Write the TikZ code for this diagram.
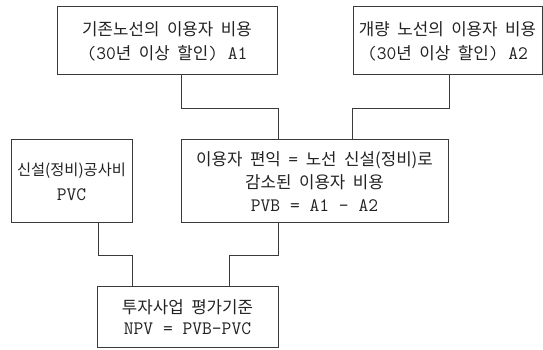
\documentclass[tikz,border=0pt]{standalone}
\usepackage{fontspec}
\newfontfamily\kr[WordSpace=2.0]{Noto Sans CJK KR}
\newcommand\E[1]{{\ttfamily\fontsize{19}{23}\selectfont #1}}
\definecolor{linec}{HTML}{3A3A3A}
\definecolor{textc}{HTML}{222222}
\begin{document}
\begin{tikzpicture}[x=1pt,y=1pt,
  box/.style={draw=linec, line width=1pt, rectangle, inner sep=0pt, align=center,
    text=textc, font=\kr\fontsize{16.8}{24}\selectfont},
  wire/.style={draw=linec, line width=1pt}]
\useasboundingbox (0,0) rectangle (543,350);
\node[box, minimum width=220pt, minimum height=68pt] (A1) at (167,309)
  {기존노선의 이용자 비용\\\E{(30}년 이상 할인\E{) A1}};
\node[box, minimum width=189pt, minimum height=68pt] (A2) at (447.5,309)
  {개량 노선의 이용자 비용\\\E{(30}년 이상 할인\E{) A2}};
\node[box, minimum width=121pt, minimum height=83pt, font=\kr\fontsize{15.3}{25}\selectfont] (PVC) at (71.5,168.5)
  {신설(정비)공사비\\\E{PVC}};
\node[box, minimum width=267pt, minimum height=83pt, font=\kr\fontsize{16.8}{23}\selectfont] (PVB) at (314.5,168.5)
  {이용자 편익 \E{=} 노선 신설(정비)로\\감소된 이용자 비용\\\E{PVB = A1 - A2}};
\node[box, minimum width=181pt, minimum height=61pt, font=\kr\fontsize{16.8}{21}\selectfont] (NPV) at (187.5,32.5)
  {투자사업 평가기준\\\E{NPV = PVB-PVC}};
\coordinate (c1) at (181,0);
\coordinate (c2) at (278,0);
\coordinate (c3) at (449,0);
\coordinate (c4) at (352,0);
\coordinate (c5) at (98,0);
\coordinate (c6) at (132,0);
\coordinate (c7) at (229,0);
\draw[wire] (A1.south -| c1) -- ++(0,-33) -| (PVB.north -| c2);
\draw[wire] (A2.south -| c3) -- ++(0,-33) -| (PVB.north -| c4);
\draw[wire] (PVC.south -| c5) -- ++(0,-32) -| (NPV.north -| c6);
\draw[wire] (PVB.south -| c2) -- ++(0,-32) -| (NPV.north -| c7);
\end{tikzpicture}
\end{document}
